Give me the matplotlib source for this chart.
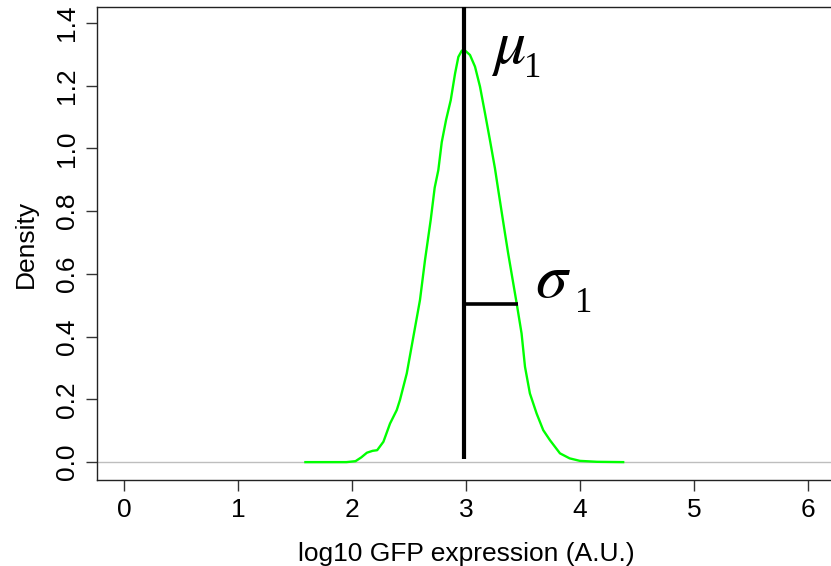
import matplotlib
matplotlib.use("Agg")
import matplotlib.pyplot as plt

# ---- data ----
gfp_log10 = [1.59, 1.80, 1.95, 2.03, 2.08, 2.13, 2.18, 2.22, 2.275, 2.333, 2.392, 2.42,
             2.48, 2.538, 2.596, 2.64, 2.69, 2.725, 2.757, 2.787, 2.825, 2.866, 2.904,
             2.933, 2.962, 2.98, 3.035, 3.079, 3.123, 3.167, 3.21, 3.254, 3.283, 3.342,
             3.37, 3.445, 3.488, 3.518, 3.561, 3.62, 3.678, 3.737, 3.825, 3.91, 4.0,
             4.15, 4.38]
density = [0.0, 0.0, 0.0, 0.003, 0.015, 0.030, 0.036, 0.038, 0.065, 0.123, 0.166, 0.198,
           0.283, 0.40, 0.517, 0.644, 0.772, 0.875, 0.931, 1.020, 1.091, 1.154, 1.239,
           1.292, 1.311, 1.316, 1.298, 1.261, 1.197, 1.112, 1.027, 0.937, 0.868, 0.730,
           0.666, 0.506, 0.410, 0.304, 0.219, 0.155, 0.102, 0.070, 0.028, 0.012, 0.004,
           0.001, 0.0]
mu1 = 2.985
sigma1 = 0.468
sigma_y = 0.504
x_ticks = [0, 1, 2, 3, 4, 5, 6]
y_ticks = [0.0, 0.2, 0.4, 0.6, 0.8, 1.0, 1.2, 1.4]
y_tick_labels = ["0.0", "0.2", "0.4", "0.6", "0.8", "1.0", "1.2", "1.4"]

plt.rcParams['font.family'] = ['Liberation Sans', 'DejaVu Sans']
plt.rcParams['mathtext.fontset'] = 'stix'

fig = plt.figure(figsize=(8.31, 5.66), dpi=100)
ax = fig.add_axes([97/831, 86/566, (835-97)/831, (480-7)/566])
ax.set_xlim(-0.24, 6.24)
ax.set_ylim(-0.057, 1.451)

ax.axhline(0, color="#bebebe", lw=1.0, zorder=1)
ax.plot(gfp_log10, density, color="#00ff00", lw=1.7, zorder=2, solid_joinstyle="round")
ax.plot([mu1, mu1], [0.01, 1.451], color="black", lw=3, solid_capstyle="butt", zorder=3, clip_on=False)
ax.plot([mu1, mu1 + sigma1], [sigma_y, sigma_y], color="black", lw=2.6, solid_capstyle="butt", zorder=3)

# labels mu_1, sigma_1
ax.text(3.22, 1.272, r"$\mu$", fontsize=46, ha="left", va="baseline")
ax.text(3.51, 1.228, "1", family="Liberation Serif", fontsize=25, ha="left", va="baseline")
ax.text(3.61, 0.526, r"$\sigma$", fontsize=46, ha="left", va="baseline")
ax.text(3.955, 0.478, "1", family="Liberation Serif", fontsize=25, ha="left", va="baseline")

ax.set_xticks(x_ticks)
ax.set_yticks(y_ticks)
ax.set_yticklabels(y_tick_labels, rotation=90, va="center")
ax.tick_params(axis="both", direction="out", length=8, width=1, labelsize=19, pad=5, color="#333333")
for s in ax.spines.values():
    s.set_linewidth(1.0)
    s.set_color("#222222")
ax.set_xlabel("log10 GFP expression (A.U.)", fontsize=19, labelpad=14)
ax.set_ylabel("Density", fontsize=19, labelpad=12)

fig.savefig("out.png", dpi=100)
